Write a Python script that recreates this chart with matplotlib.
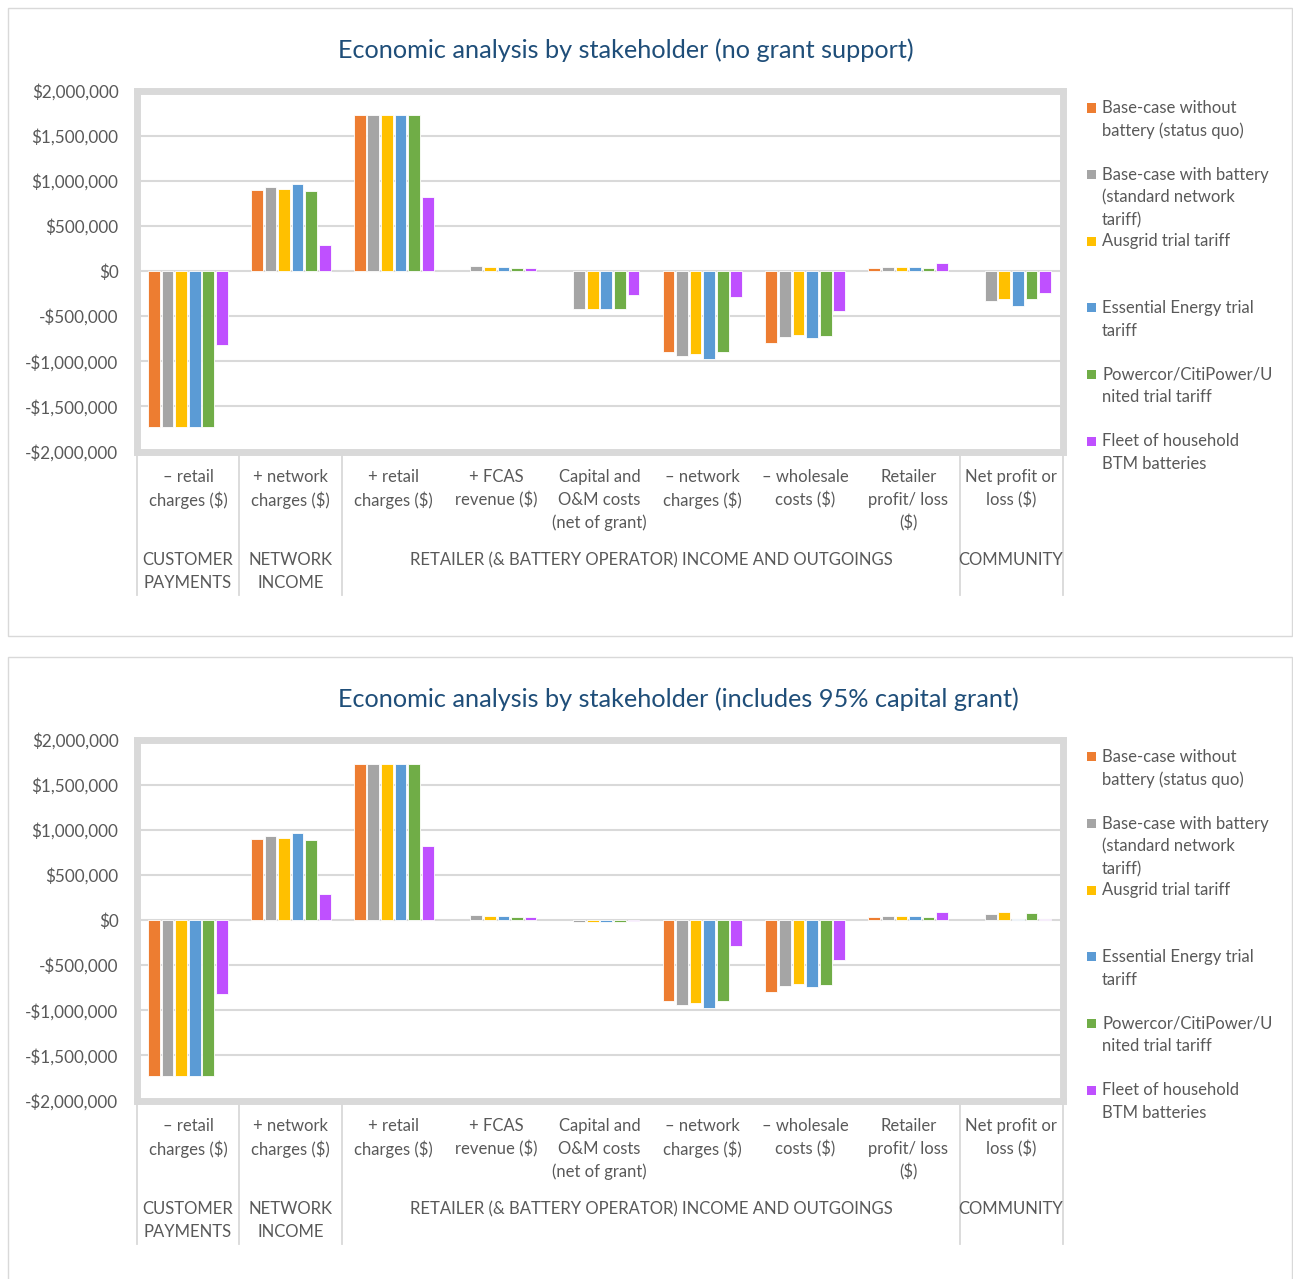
#!/usr/bin/env python3
"""Stakeholder economics for the battery tariff trials, with and without a capital grant."""

import matplotlib

matplotlib.use("Agg")
import matplotlib.pyplot as plt
from matplotlib import transforms
from matplotlib.lines import Line2D
from matplotlib.patches import Rectangle
from matplotlib.ticker import FuncFormatter, MultipleLocator

plt.rcParams["font.family"] = ["Lato", "DejaVu Sans"]

W, H = 1293, 1279
TEXT = "#595959"
GRID = "#D9D9D9"
TITLE_BLUE = "#1F4E79"

CATEGORIES = [
    "– retail\ncharges ($)",
    "+ network\ncharges ($)",
    "+ retail\ncharges ($)",
    "+ FCAS\nrevenue ($)",
    "Capital and\nO&M costs\n(net of grant)",
    "– network\ncharges ($)",
    "– wholesale\ncosts ($)",
    "Retailer\nprofit/ loss\n($)",
    "Net profit or\nloss ($)",
]
# (label, first category index, last category index)
GROUPS = [
    ("CUSTOMER\nPAYMENTS", 0, 0),
    ("NETWORK\nINCOME", 1, 1),
    ("RETAILER (& BATTERY OPERATOR) INCOME AND OUTGOINGS", 2, 7),
    ("COMMUNITY", 8, 8),
]

SERIES = [
    "Base-case without\nbattery (status quo)",
    "Base-case with battery\n(standard network\ntariff)",
    "Ausgrid trial tariff",
    "Essential Energy trial\ntariff",
    "Powercor/CitiPower/U\nnited trial tariff",
    "Fleet of household\nBTM batteries",
]
COLORS = ["#ED7D31", "#A5A5A5", "#FFC000", "#5B9BD5", "#70AD47", "#BF50FF"]

# Values per category, no grant support
BASE_NO_BATTERY = [-1730000, 895000, 1730000, 0, 0, -900000, -800000, 37000, 0]
BASE_WITH_BATTERY = [-1730000, 932000, 1730000, 55000, -425000, -937000, -726000, 49000, -333000]
AUSGRID = [-1730000, 914000, 1730000, 47000, -425000, -918000, -714000, 45000, -315000]
ESSENTIAL = [-1730000, 961000, 1730000, 48000, -425000, -970000, -744000, 48000, -385000]
POWERCOR = [-1725000, 884000, 1725000, 36000, -425000, -895000, -721000, 37000, -315000]
FLEET = [-825000, 287000, 825000, 30000, -265000, -292000, -440000, 93000, -240000]

# With the 95% capital grant only these two categories change (one value per series)
CAPITAL_WITH_GRANT = [0, -21000, -21000, -21000, -21000, -13000]
NET_PROFIT_WITH_GRANT = [0, 66000, 85000, 11000, 82000, 8000]

NO_GRANT = [BASE_NO_BATTERY, BASE_WITH_BATTERY, AUSGRID, ESSENTIAL, POWERCOR, FLEET]
WITH_GRANT = []
for values, capital, net in zip(NO_GRANT, CAPITAL_WITH_GRANT, NET_PROFIT_WITH_GRANT):
    row = list(values)
    row[4] = capital
    row[8] = net
    WITH_GRANT.append(row)

PANELS = [
    ("Economic analysis by stakeholder (no grant support)", NO_GRANT, 0),
    ("Economic analysis by stakeholder (includes 95% capital grant)", WITH_GRANT, 649),
]


def fx(x):
    return x / W


def fy(y):
    return 1 - y / H


def money(value, _pos=None):
    if value == 0:
        return "$0"
    sign = "-" if value < 0 else ""
    return f"{sign}${abs(value):,.0f}"


def draw_panel(fig, title, data, dy):
    fig.patches.append(Rectangle((fx(8), fy(636 + dy)), fx(1284), (628) / H,
                                 transform=fig.transFigure, facecolor="none",
                                 edgecolor=GRID, linewidth=1.0))
    fig.text(fx(338), fy(50 + dy), title, ha="left", va="center",
             fontsize=18.2, color=TITLE_BLUE)

    left, top, right, bottom = 136.5, 90.5 + dy, 1062.5, 451.5 + dy
    ax = fig.add_axes([fx(left), fy(bottom), fx(right - left), (bottom - top) / H])

    n = len(data)
    pitch, width = 0.132, 0.114
    for i, (values, color) in enumerate(zip(data, COLORS)):
        # empty categories get no bar at all
        pairs = [(c + (i - (n - 1) / 2) * pitch, v) for c, v in enumerate(values) if v != 0]
        xs = [p[0] for p in pairs]
        ys = [p[1] for p in pairs]
        ax.bar(xs, ys, width=width, color=color, edgecolor="white",
               linewidth=0.6, zorder=3)

    ax.set_xlim(-0.5, len(CATEGORIES) - 0.5)
    ax.set_ylim(-2000000, 2000000)
    ax.yaxis.set_major_locator(MultipleLocator(500000))
    ax.yaxis.set_major_formatter(FuncFormatter(money))
    ax.set_xticks([])
    ax.tick_params(axis="y", length=0, pad=13, labelsize=12.3, labelcolor=TEXT)
    ax.grid(axis="y", color=GRID, linewidth=1.5, zorder=0)
    ax.set_axisbelow(True)
    for spine in ax.spines.values():
        spine.set_color(GRID)
        spine.set_linewidth(5)

    # multi-level category axis below the plot area
    blend = transforms.blended_transform_factory(ax.transData, fig.transFigure)
    for c, label in enumerate(CATEGORIES):
        for k, line in enumerate(label.split("\n")):
            fig.text(c, fy(477 + 23 * k + dy), line, transform=blend,
                     ha="center", va="center", fontsize=12, color=TEXT)
    for label, first, last in GROUPS:
        for k, line in enumerate(label.split("\n")):
            fig.text((first + last) / 2, fy(560 + 23 * k + dy), line, transform=blend,
                     ha="center", va="center", fontsize=12, color=TEXT)
    edges = sorted({first - 0.5 for _, first, _ in GROUPS} | {last + 0.5 for _, _, last in GROUPS})
    for x in edges:
        fig.lines.append(Line2D([x, x], [fy(455 + dy), fy(595 + dy)], transform=blend,
                                color=GRID, linewidth=1.3))

    # legend on the right
    for i, (label, color) in enumerate(zip(SERIES, COLORS)):
        y0 = 108 + 66.6 * i + dy
        fig.patches.append(Rectangle((fx(1087), fy(y0 + 4.5)), fx(9), 9 / H,
                                     transform=fig.transFigure, facecolor=color,
                                     edgecolor="none"))
        for k, line in enumerate(label.split("\n")):
            fig.text(fx(1102), fy(y0 + 23 * k), line, ha="left", va="center",
                     fontsize=12, color=TEXT)


def main():
    fig = plt.figure(figsize=(W / 100, H / 100), dpi=100)
    for title, data, dy in PANELS:
        draw_panel(fig, title, data, dy)
    fig.savefig("out.png", dpi=100, facecolor="white")
    plt.close(fig)


if __name__ == "__main__":
    main()
